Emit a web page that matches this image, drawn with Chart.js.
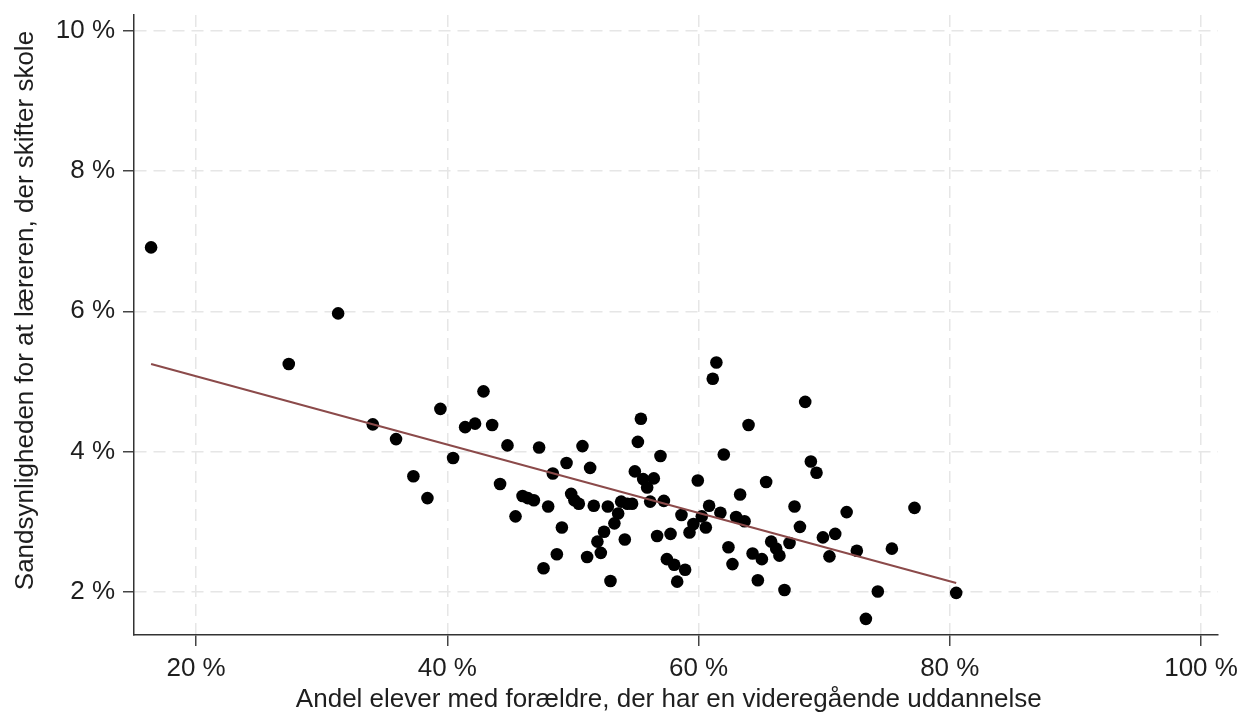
<!DOCTYPE html>
<html lang="da">

<head>
    <meta charset="UTF-8">
    <title>Sandsynlighed for skoleskift</title>
    <script src="https://cdn.jsdelivr.net/npm/chart.js"></script>
    <style>
        body {
            margin: 0;
            background: #fff;
        }

        .chart-container {
            position: relative;
            width: 1250px;
            height: 715px;
        }
    </style>
</head>

<body>
    <div class="chart-container">
        <canvas id="scatterChart"></canvas>
    </div>

    <script>
        // Andel elever med forældre med videregående uddannelse (%)
        const shareParents = [
            16.42, 27.38, 31.31, 34.07, 35.92, 37.30, 38.42, 39.45, 40.46, 41.42,
            42.21, 42.88, 43.57, 44.20, 44.79, 45.43, 45.99, 46.41, 46.89, 47.31,
            47.66, 48.03, 48.40, 48.72, 49.12, 49.49, 49.86, 50.12, 50.47, 50.76,
            51.13, 51.37, 51.66, 51.95, 52.22, 52.48, 52.78, 52.99, 53.30, 53.60,
            53.84, 54.13, 54.34, 54.71, 54.93, 55.17, 55.41, 55.59, 55.91, 56.15,
            56.44, 56.70, 56.97, 57.24, 57.48, 57.77, 58.06, 58.30, 58.64, 58.93,
            59.28, 59.59, 59.94, 60.26, 60.58, 60.84, 61.13, 61.42, 61.74, 62.01,
            62.38, 62.70, 62.99, 63.31, 63.66, 63.98, 64.30, 64.72, 65.04, 65.38,
            65.78, 66.18, 66.44, 66.84, 67.24, 67.64, 68.07, 68.49, 68.94, 69.39,
            69.90, 70.42, 70.88, 71.79, 72.60, 73.32, 74.27, 75.39, 77.19, 80.51
        ];

        // Sandsynlighed for at læreren skifter skole (%)
        const switchProb = [
            6.91, 5.25, 5.97, 4.39, 4.18, 3.65, 3.34, 4.61, 3.91, 4.35,
            4.40, 4.86, 4.38, 3.54, 4.09, 3.08, 3.37, 3.34, 3.31, 4.06,
            2.34, 3.22, 3.69, 2.54, 2.92, 3.84, 3.40, 3.31, 3.26, 4.08,
            2.50, 3.77, 3.23, 2.72, 2.56, 2.86, 3.22, 2.16, 2.98, 3.12,
            3.29, 2.75, 3.26, 3.26, 3.72, 4.14, 4.47, 3.61, 3.49, 3.29,
            3.62, 2.80, 3.94, 3.30, 2.47, 2.83, 2.39, 2.15, 3.10, 2.32,
            2.85, 2.97, 3.59, 3.08, 2.92, 3.23, 5.04, 5.27, 3.13, 3.96,
            2.64, 2.40, 3.07, 3.39, 3.01, 4.38, 2.55, 2.17, 2.47, 3.57,
            2.72, 2.62, 2.52, 2.03, 2.70, 3.22, 2.93, 4.71, 3.86, 3.70,
            2.78, 2.51, 2.83, 3.14, 2.59, 1.62, 2.01, 2.62, 3.20, 1.99
        ];

        // Endpoints of the fitted line
        const fitX = [16.42, 80.51];
        const fitY = [5.25, 2.13];

        const xTicks = [20, 40, 60, 80, 100];
        const yTicks = [2, 4, 6, 8, 10];

        // titles are not quite centred in the original, padded with spaces
        const xTitle = 'Andel elever med forældre, der har en videregående uddannelse  ';
        const yTitle = '    Sandsynligheden for at læreren, der skifter skole';

        const points = shareParents.map((x, i) => ({ x: x, y: switchProb[i] }));
        const fitLine = fitX.map((x, i) => ({ x: x, y: fitY[i] }));

        const fontFamily = '"Liberation Sans", Arial, sans-serif';
        const textColor = '#1e1e1e';

        const gridOpts = {
            color: '#e6e6e6',
            lineWidth: 1.5,
            tickColor: '#444',
            tickWidth: 1.5,
            tickLength: 11,
            tickBorderDash: []
        };

        const ctx = document.getElementById('scatterChart').getContext('2d');
        new Chart(ctx, {
            type: 'scatter',
            data: {
                datasets: [
                    {
                        label: 'Skoler',
                        data: points,
                        backgroundColor: '#000',
                        borderWidth: 0,
                        pointRadius: 6.3,
                        order: 1
                    },
                    {
                        label: 'Lineær tendens',
                        data: fitLine,
                        showLine: true,
                        borderColor: '#8b4a4a',
                        borderWidth: 2,
                        pointRadius: 0,
                        order: 0
                    }
                ]
            },
            options: {
                responsive: true,
                maintainAspectRatio: false,
                animation: false,
                layout: {
                    padding: { top: 15, right: 32, bottom: 0, left: 0 }
                },
                plugins: {
                    legend: { display: false },
                    tooltip: { enabled: false }
                },
                scales: {
                    x: {
                        type: 'linear',
                        min: 15.06,
                        max: 101.35,
                        afterBuildTicks: axis => { axis.ticks = xTicks.map(v => ({ value: v })); },
                        afterFit: scale => {
                            scale.height = 80;
                            scale.paddingLeft = 0;
                            scale.paddingRight = 0;
                        },
                        grid: gridOpts,
                        border: { display: true, color: '#333', width: 1.5, dash: [12, 7] },
                        ticks: {
                            padding: 7,
                            color: textColor,
                            font: { family: fontFamily, size: 26 },
                            maxRotation: 0,
                            callback: v => v + ' %'
                        },
                        title: {
                            display: true,
                            text: xTitle,
                            color: textColor,
                            font: { family: fontFamily, size: 26 },
                            padding: { top: 0, bottom: 0 }
                        }
                    },
                    y: {
                        type: 'linear',
                        min: 1.39,
                        max: 10.22,
                        afterBuildTicks: axis => { axis.ticks = yTicks.map(v => ({ value: v })); },
                        afterFit: scale => {
                            scale.width = 134;
                            scale.paddingTop = 0;
                            scale.paddingBottom = 0;
                        },
                        grid: gridOpts,
                        border: { display: true, color: '#333', width: 1.5, dash: [12, 7] },
                        ticks: {
                            padding: 8,
                            color: textColor,
                            font: { family: fontFamily, size: 26 },
                            callback: v => v + ' %'
                        },
                        title: {
                            display: true,
                            text: yTitle,
                            color: textColor,
                            font: { family: fontFamily, size: 26 },
                            padding: { top: 10, bottom: 0 }
                        }
                    }
                }
            }
        });
    </script>
</body>

</html>
